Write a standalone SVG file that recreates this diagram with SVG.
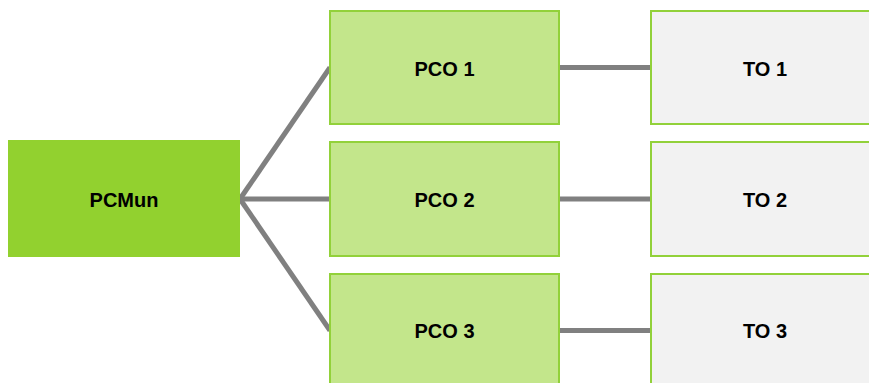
<svg xmlns="http://www.w3.org/2000/svg" width="869" height="383" viewBox="0 0 869 383">
<style>
.lbl{font-family:"Liberation Sans",Arial,sans-serif;font-weight:bold;font-size:20px;fill:#000;text-anchor:middle}
.root{fill:#92d12f}
.pco{fill:#c3e68b;stroke:#92d13a;stroke-width:2}
.to{fill:#f2f2f2;stroke:#92d13a;stroke-width:2}
.con{stroke:#808080;stroke-width:5;fill:none}
</style>
<rect width="869" height="383" fill="#ffffff"/>
<g id="connectors">
<line class="con" x1="240" y1="199" x2="330" y2="67.5"/>
<line class="con" x1="240" y1="199" x2="330" y2="199"/>
<line class="con" x1="240" y1="199" x2="330" y2="330.5"/>
<line class="con" x1="560" y1="67.5" x2="651" y2="67.5"/>
<line class="con" x1="560" y1="199" x2="651" y2="199"/>
<line class="con" x1="560" y1="330.5" x2="651" y2="330.5"/>
</g>
<g id="pcmun">
<rect class="root" x="8" y="140" width="232" height="117"/>
<text class="lbl" x="124" y="206.5">PCMun</text>
</g>
<g id="pco1">
<rect class="pco" x="330" y="11" width="229" height="113"/>
<text class="lbl" x="444.5" y="75.5">PCO 1</text>
</g>
<g id="pco2">
<rect class="pco" x="330" y="142" width="229" height="114"/>
<text class="lbl" x="444.5" y="206.5">PCO 2</text>
</g>
<g id="pco3">
<rect class="pco" x="330" y="274" width="229" height="120"/>
<text class="lbl" x="444.5" y="338">PCO 3</text>
</g>
<g id="to1">
<rect class="to" x="651" y="11" width="229" height="113"/>
<text class="lbl" x="765" y="75.5">TO 1</text>
</g>
<g id="to2">
<rect class="to" x="651" y="142" width="229" height="114"/>
<text class="lbl" x="765" y="206.5">TO 2</text>
</g>
<g id="to3">
<rect class="to" x="651" y="274" width="229" height="120"/>
<text class="lbl" x="765" y="338">TO 3</text>
</g>
</svg>
